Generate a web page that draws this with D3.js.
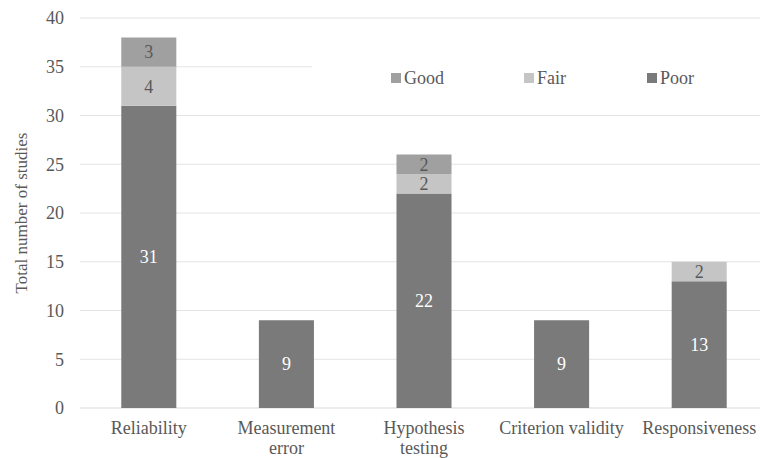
<!DOCTYPE html>
<html>
<head>
<meta charset="utf-8">
<script src="https://cdn.jsdelivr.net/npm/d3@7"></script>
</head>
<body style="margin:0">
<svg id="chart" width="760" height="458"></svg>
<script>
// chart data
const categories = ["Reliability", "Measurement error", "Hypothesis testing", "Criterion validity", "Responsiveness"];
const poor = [31, 9, 22, 9, 13];
const fair = [4, 0, 2, 0, 2];
const good = [3, 0, 2, 0, 0];
const yTicks = [0, 5, 10, 15, 20, 25, 30, 35, 40];
const seriesKeys = ["poor", "fair", "good"];
const legendKeys = ["good", "fair", "poor"];
const seriesNames = { poor: "Poor", fair: "Fair", good: "Good" };

const colors = { poor: "#7a7a7a", fair: "#c5c5c5", good: "#a0a0a0" };
const labelColors = { poor: "#ffffff", fair: "#595959", good: "#595959" };
const textColor = "#595959";

const width = 760, height = 458;
const padding = { top: 18, bottom: 50, left: 80, right: -8 };

const rows = categories.map((c, i) => ({ category: c, poor: poor[i], fair: fair[i], good: good[i] }));
const stacked = d3.stack().keys(seriesKeys)(rows);

const svg = d3.select("#chart");

// every text gets the serif face directly
function serif(sel, size) {
  return sel.attr("font-family", "Times New Roman")
    .style("font-family", "'Times New Roman', 'Liberation Serif', Tinos, serif")
    .attr("font-size", size);
}

const xScale = d3.scaleBand()
  .domain(categories)
  .range([padding.left, width - padding.right])
  .paddingInner(0.6)
  .paddingOuter(0.3);

const yScale = d3.scaleLinear()
  .domain([0, 40])
  .range([height - padding.bottom, padding.top]);

// gridlines
svg.append("g")
  .selectAll("line")
  .data(yTicks)
  .join("line")
  .attr("x1", padding.left)
  .attr("x2", width)
  .attr("y1", d => yScale(d))
  .attr("y2", d => yScale(d))
  .attr("stroke", d => d === 0 ? "#d9d9d9" : "#e4e4e4")
  .attr("stroke-width", 1);

// y tick labels
svg.append("g")
  .selectAll("text")
  .data(yTicks)
  .join("text")
  .attr("x", 64)
  .attr("y", d => yScale(d))
  .attr("dy", "0.35em")
  .attr("text-anchor", "end")
  .attr("fill", textColor)
  .call(serif, 18)
  .text(d => d);

// y axis title
svg.append("text")
  .attr("transform", `translate(27, ${(yScale(0) + yScale(40)) / 2}) rotate(-90)`)
  .attr("text-anchor", "middle")
  .attr("fill", textColor)
  .call(serif, 17)
  .text("Total number of studies");

// legend background hides the gridline behind it
svg.append("rect")
  .attr("x", 312)
  .attr("y", 45)
  .attr("width", width - 312)
  .attr("height", 60)
  .attr("fill", "#fff");

// bars
const layers = svg.append("g")
  .selectAll("g")
  .data(stacked)
  .join("g")
  .attr("fill", d => colors[d.key]);

layers.selectAll("rect")
  .data(d => d.filter(s => s[1] > s[0]))
  .join("rect")
  .attr("x", d => xScale(d.data.category))
  .attr("width", xScale.bandwidth())
  .attr("y", d => yScale(d[1]))
  .attr("height", d => yScale(d[0]) - yScale(d[1]));

// value labels
stacked.forEach(layer => {
  svg.append("g")
    .selectAll("text")
    .data(layer.filter(s => s[1] > s[0]))
    .join("text")
    .attr("x", d => xScale(d.data.category) + xScale.bandwidth() / 2)
    .attr("y", d => yScale((d[0] + d[1]) / 2))
    .attr("dy", "0.35em")
    .attr("text-anchor", "middle")
    .attr("fill", labelColors[layer.key])
    .call(serif, 18)
    .text(d => d[1] - d[0]);
});

// category labels, wrapped to the band step
const catLabels = svg.append("g")
  .selectAll("text")
  .data(categories)
  .join("text")
  .attr("x", d => xScale(d) + xScale.bandwidth() / 2)
  .attr("y", 434)
  .attr("text-anchor", "middle")
  .attr("fill", textColor)
  .call(serif, 18);

catLabels.each(function (d) {
  const text = d3.select(this);
  const words = d.split(" ");
  let line = [];
  let tspan = text.append("tspan").attr("x", text.attr("x")).attr("dy", 0);
  words.forEach(w => {
    line.push(w);
    tspan.text(line.join(" "));
    if (tspan.node().getComputedTextLength() > 128 && line.length > 1) {
      line.pop();
      tspan.text(line.join(" "));
      line = [w];
      tspan = text.append("tspan").attr("x", text.attr("x")).attr("dy", "1.1em").text(w);
    }
  });
});

// legend
const legendX = { good: 391, fair: 524, poor: 647 };
const legend = svg.append("g")
  .selectAll("g")
  .data(legendKeys)
  .join("g")
  .attr("transform", d => `translate(${legendX[d]}, 73)`);

legend.append("rect")
  .attr("width", 10)
  .attr("height", 10)
  .attr("fill", d => colors[d]);

legend.append("text")
  .attr("x", 13)
  .attr("y", 5)
  .attr("dy", "0.35em")
  .attr("fill", textColor)
  .call(serif, 18)
  .text(d => seriesNames[d]);
</script>
</body>
</html>
